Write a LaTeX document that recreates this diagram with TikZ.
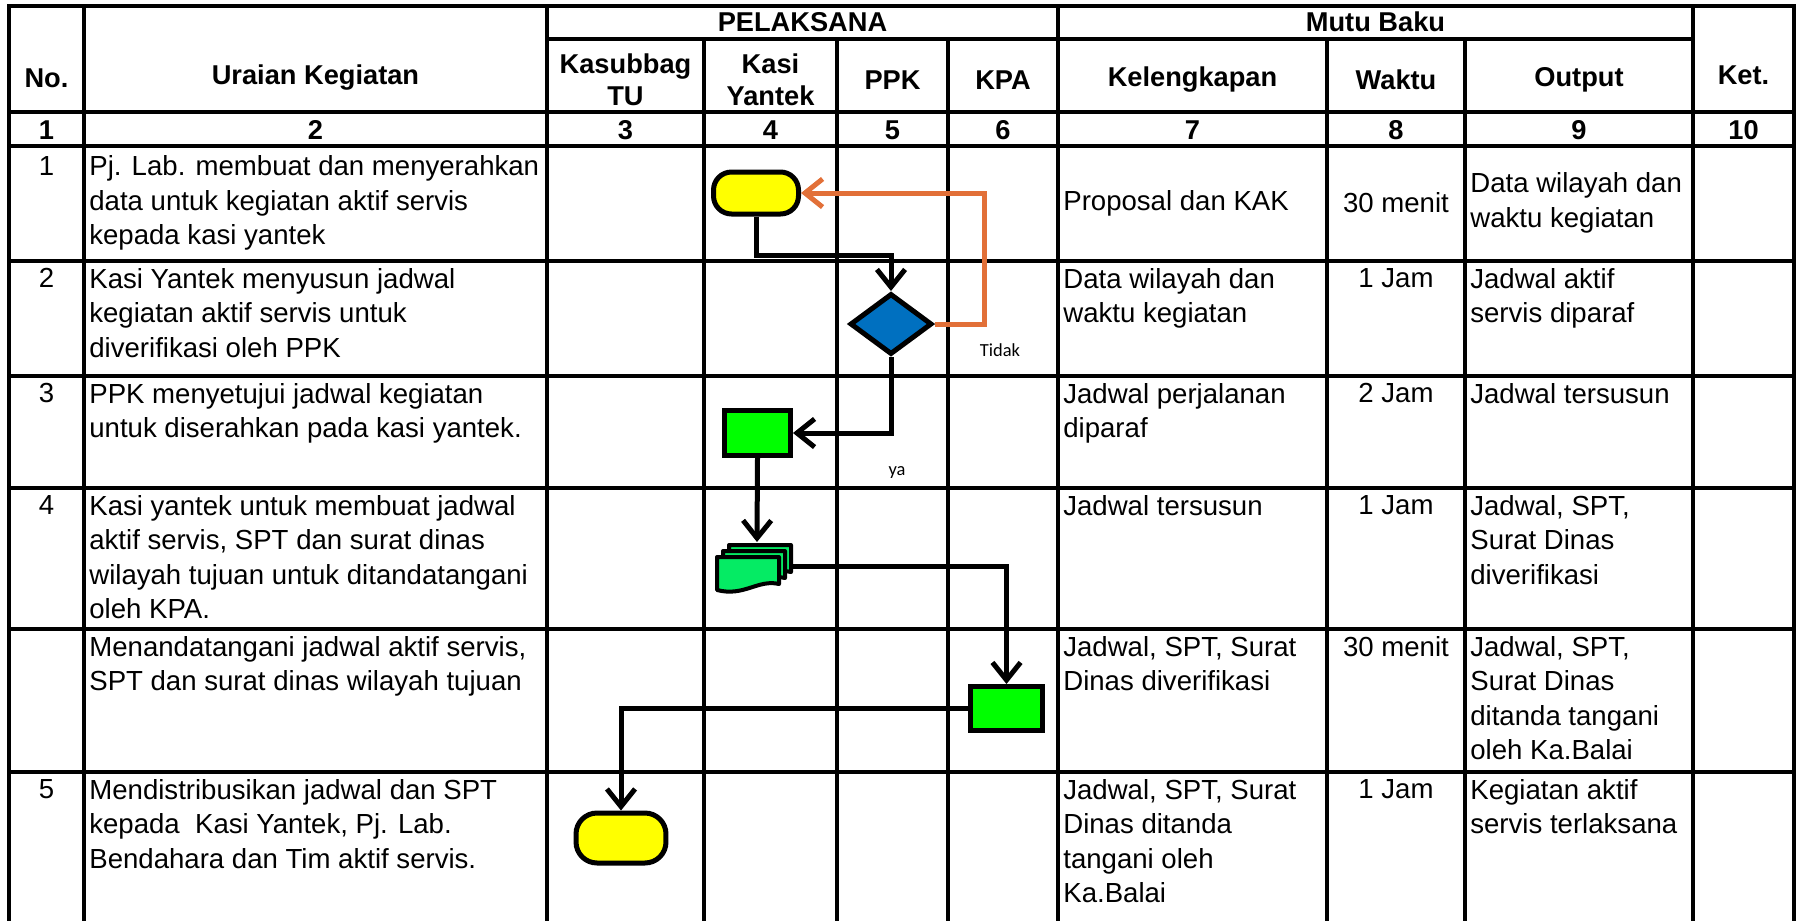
\documentclass[tikz,border=0pt]{standalone}
\usepackage{fontspec}
\setmainfont{Liberation Sans}
\newfontfamily\labelfont{Carlito}
\usetikzlibrary{shapes.geometric,arrows.meta}

\definecolor{termyellow}{RGB}{255,255,0}
\definecolor{decblue}{RGB}{0,112,192}
\definecolor{boxgreen}{RGB}{0,255,0}
\definecolor{docgreen}{RGB}{5,235,100}
\definecolor{looporange}{RGB}{226,112,56}

\begin{document}
\begin{tikzpicture}[x=0.02cm, y=-0.02cm,
    grid/.style={line width=0.07cm, line cap=rect},
    txt/.style={inner sep=0pt, font=\fontsize{15.7}{19.6}\selectfont},
    cell/.style={txt, anchor=north west, align=left},
    hd/.style={inner sep=0pt, font=\fontsize{15.5}{18.4}\selectfont\bfseries, align=center},
    shapeline/.style={draw=black, line width=0.1cm},
    term/.style={shapeline, fill=termyellow},
    proc/.style={shapeline, fill=boxgreen},
    flow/.style={line width=0.1cm, -{Straight Barb[length=10pt,width=16pt]}},
    lbl/.style={inner sep=0pt, font=\labelfont\fontsize{10.5}{12}\selectfont}]
  \useasboundingbox (0,0) rectangle (1802,920);

  % table grid
  \foreach \x in {9,84,547,1058,1693,1794}
    \draw[grid] (\x,6) -- (\x,920);
  \foreach \x in {704,837,948,1327,1465}
    \draw[grid] (\x,39) -- (\x,920);
  \draw[grid] (9,6) -- (1794,6);
  \draw[grid] (547,39) -- (1693,39);
  \foreach \y in {112,146,261,376,488,629,772}
    \draw[grid] (9,\y) -- (1794,\y);

  % header
  \node[hd] (hno) at (46.5,78) {No.};
  \node[hd] (hur) at (315.5,78) {Uraian Kegiatan};
  \node[hd] (hpel) at (802.5,22) {PELAKSANA};
  \node[hd] (hmutu) at (1375.5,22) {Mutu Baku};
  \node[hd] (hkas) at (625.5,80) {Kasubbag\\TU};
  \node[hd] (hkasi) at (770.5,80) {Kasi\\Yantek};
  \node[hd] (hppk) at (892.5,80) {PPK};
  \node[hd] (hkpa) at (1003,80) {KPA};
  \node[hd] (hkel) at (1192.5,80) {Kelengkapan};
  \node[hd] (hwak) at (1396,80) {Waktu};
  \node[hd] (hout) at (1579,80) {Output};
  \node[hd] (hket) at (1743.5,75) {Ket.};
  \foreach \x/\n in {46.5/1,315.5/2,625.5/3,770.5/4,892.5/5,1003/6,1192.5/7,1396/8,1579/9,1743.5/10}
    \node[hd] (num\n) at (\x,130) {\n};

  % row 1
  \node[txt, anchor=north] (no1) at (46.5,156) {1};
  \node[txt, anchor=west, align=left] (ur1) at (89,203) {Pj. Lab. membuat dan menyerahkan\\data untuk kegiatan aktif servis\\kepada kasi yantek};
  \node[txt, anchor=west] (kel1) at (1063,203) {Proposal dan KAK};
  \node[txt] (wak1) at (1396,203) {30 menit};
  \node[txt, anchor=west, align=left] (out1) at (1470,203) {Data wilayah dan\\waktu kegiatan};

  % row 2
  \node[txt, anchor=north] (no2) at (46.5,268) {2};
  \node[cell] (ur2) at (89,268) {Kasi Yantek menyusun jadwal\\kegiatan aktif servis untuk\\diverifikasi oleh PPK};
  \node[cell] (kel2) at (1063,268) {Data wilayah dan\\waktu kegiatan};
  \node[txt, anchor=north] (wak2) at (1396,268) {1 Jam};
  \node[cell] (out2) at (1470,268) {Jadwal aktif\\servis diparaf};

  % row 3
  \node[txt, anchor=north] (no3) at (46.5,383) {3};
  \node[cell] (ur3) at (89,383) {PPK menyetujui jadwal kegiatan\\untuk diserahkan pada kasi yantek.};
  \node[cell] (kel3) at (1063,383) {Jadwal perjalanan\\diparaf};
  \node[txt, anchor=north] (wak3) at (1396,383) {2 Jam};
  \node[cell] (out3) at (1470,383) {Jadwal tersusun};

  % row 4
  \node[txt, anchor=north] (no4) at (46.5,495) {4};
  \node[cell] (ur4) at (89,495) {Kasi yantek untuk membuat jadwal\\aktif servis, SPT dan surat dinas\\wilayah tujuan untuk ditandatangani\\oleh KPA.};
  \node[cell] (kel4) at (1063,495) {Jadwal tersusun};
  \node[txt, anchor=north] (wak4) at (1396,495) {1 Jam};
  \node[cell] (out4) at (1470,495) {Jadwal, SPT,\\Surat Dinas\\diverifikasi};

  % row 5 (no number)
  \node[cell] (ur5) at (89,636) {Menandatangani jadwal aktif servis,\\SPT dan surat dinas wilayah tujuan};
  \node[cell] (kel5) at (1063,636) {Jadwal, SPT, Surat\\Dinas diverifikasi};
  \node[txt, anchor=north] (wak5) at (1396,636) {30 menit};
  \node[cell] (out5) at (1470,636) {Jadwal, SPT,\\Surat Dinas\\ditanda tangani\\oleh Ka.Balai};

  % row 6
  \node[txt, anchor=north] (no6) at (46.5,779) {5};
  \node[cell] (ur6) at (89,779) {Mendistribusikan jadwal dan SPT\\kepada\ \ Kasi Yantek, Pj. Lab.\\Bendahara dan Tim aktif servis.};
  \node[cell] (kel6) at (1063,779) {Jadwal, SPT, Surat\\Dinas ditanda\\tangani oleh\\Ka.Balai};
  \node[txt, anchor=north] (wak6) at (1396,779) {1 Jam};
  \node[cell] (out6) at (1470,779) {Kegiatan aktif\\servis terlaksana};

  % flow shapes
  \node[term, rounded corners=0.36cm, minimum width=1.70cm, minimum height=0.84cm] (start) at (756,193) {};
  \node[shapeline, fill=decblue, diamond, inner sep=0pt, minimum width=1.64cm, minimum height=1.22cm] (check) at (891,324) {};
  \node[proc, minimum width=1.32cm, minimum height=0.90cm] (draft) at (757.5,433) {};
  \node[proc, minimum width=1.44cm, minimum height=0.88cm] (sign) at (1006.5,708.5) {};
  \node[term, rounded corners=0.42cm, minimum width=1.80cm, minimum height=1.00cm] (finish) at (621,838) {};

  % multi document
  \foreach \d in {12,6,0}
    \draw[shapeline, line width=0.08cm, fill=docgreen, line join=round]
      (717+\d,557-\d) -- (779+\d,557-\d) -- (779+\d,584-\d)
      .. controls (758+\d,579-\d) and (744+\d,597-\d) .. (717+\d,590-\d) -- cycle;
  \coordinate (docin) at (757,542);
  \coordinate (docout) at (793,566);
  \coordinate (bend) at (830,255);

  % connectors
  \draw[flow] (start.south) |- (bend) -| (check.north);
  \draw[flow, draw=looporange] (check.east) -- ++(50,0) |- (start.east);
  \draw[flow] (check.south) |- (draft.east);
  \draw[flow] (draft.south) -- (docin);
  \draw[flow] (docout) -| (sign.north);
  \draw[flow] (sign.west) -| (finish.north);

  \node[lbl] (no) at (1000,350) {Tidak};
  \node[lbl] (yes) at (897,472) {ya};
\end{tikzpicture}
\end{document}
